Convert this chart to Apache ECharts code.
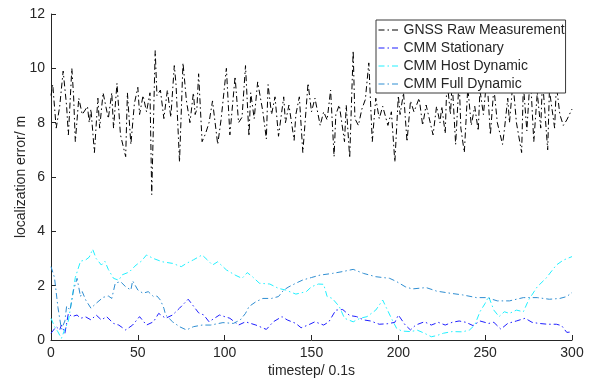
<!DOCTYPE html>
<html>
<head>
<meta charset="utf-8">
<script src="https://cdn.jsdelivr.net/npm/echarts@6/dist/echarts.min.js"></script>
<style>html,body{margin:0;padding:0;background:#fff}#chart{width:594px;height:380px}</style>
</head>
<body>
<div id="chart"></div>
<script>
// Series names (legend order)
const seriesNames = ['GNSS Raw Measurement', 'CMM Stationary', 'CMM Host Dynamic', 'CMM Full Dynamic'];

// Axis ticks
const xTicks = [0, 50, 100, 150, 200, 250, 300];
const yTicks = [0, 2, 4, 6, 8, 10, 12];

// GNSS Raw Measurement
const gnssT = [0,1,3,5,7,9,10,12,13,14,16,18,21,22,23,25,27,28,30,33,35,36,38,40,43,44,46,48,50,51,53,55,57,58,60,61,63,65,67,69,71,72,74,76,78,80,82,83,84,85,87,89,91,93,96,98,101,103,106,108,110,112,114,115,117,119,122,124,125,127,129,131,134,135,137,140,141,143,145,148,150,152,155,157,159,161,163,164,166,169,170,172,174,175,177,179,181,183,185,187,189,191,194,196,198,200,201,203,205,207,209,212,214,216,220,222,224,225,227,228,230,231,233,235,236,238,240,242,244,246,247,249,251,253,255,257,260,261,263,264,266,268,271,272,274,276,278,280,282,283,286,287,290,291,293,295,297,300];
const gnssV = [9.0,9.4,7.8,8.6,9.9,8.6,7.55,10.0,9.0,7.3,8.9,8.3,8.6,8.0,8.5,6.9,8.9,7.8,9.1,8.15,9.1,7.8,9.45,7.55,6.75,9.1,7.2,8.7,9.3,8.3,9.0,8.4,9.1,5.35,10.65,9.0,9.2,8.15,9.2,8.2,10.1,9.4,6.55,10.2,8.8,8.0,9.1,8.3,8.5,9.8,7.3,7.6,8.0,8.8,7.2,8.15,10.0,7.55,9.7,8.0,8.2,10.1,7.5,9.1,8.15,9.5,8.4,7.4,9.4,8.3,8.95,7.5,8.95,8.0,8.65,7.35,8.3,8.95,6.9,9.45,8.4,8.9,7.9,8.4,8.1,9.2,6.75,8.3,8.65,7.3,8.65,6.7,10.65,8.15,7.9,8.5,8.85,10.2,7.3,8.9,8.15,8.6,7.9,8.4,6.55,9.0,8.3,9.1,7.3,8.8,8.4,8.9,7.9,8.65,7.55,8.6,8.0,8.6,7.6,9.6,8.3,9.5,7.2,9.6,7.8,6.9,9.3,7.9,8.6,7.7,9.2,8.3,9.7,7.55,9.3,8.0,7.2,7.7,8.9,8.0,9.5,8.0,6.9,9.4,7.7,9.8,7.3,9.1,7.8,9.6,7.0,9.2,7.8,9.4,8.3,7.9,8.1,8.5];

// CMM Stationary
const statT = [0,3,5,6,8,10,12,15,17,20,23,26,29,32,36,39,43,47,51,55,59,62,66,70,74,79,82,85,88,91,97,103,108,112,118,124,128,133,136,141,144,148,152,157,160,164,168,172,176,180,184,189,194,198,200,204,207,210,215,219,223,227,231,235,239,243,247,252,255,259,263,268,273,277,281,286,291,294,297,300];
const statV = [0.25,0.49,0.37,0.55,0.25,0.98,0.86,0.92,0.8,0.85,0.74,0.92,0.74,0.86,0.61,0.55,0.37,0.55,0.86,0.55,0.67,0.98,0.8,0.92,1.17,1.5,1.25,1.0,0.92,0.67,0.92,0.8,0.55,0.67,0.55,0.39,0.67,0.86,0.74,0.61,0.45,0.55,0.67,0.55,0.67,1.1,1.12,0.9,0.86,0.74,0.7,0.58,0.6,0.65,0.92,0.55,0.37,0.55,0.67,0.55,0.65,0.55,0.65,0.7,0.65,0.53,0.7,0.61,0.65,0.4,0.61,0.7,0.8,0.65,0.61,0.58,0.58,0.53,0.28,0.3];

// CMM Host Dynamic
const hostT = [0,2,4,6,8,10,12,14,17,20,22,24,26,29,31,33,36,39,41,45,49,52,55,59,64,70,75,78,82,87,90,93,96,101,106,110,113,116,120,126,131,135,141,147,150,154,157,159,162,166,169,174,178,182,187,191,193,196,199,202,207,211,215,219,222,226,231,237,241,244,247,250,252,255,258,261,264,268,272,275,280,285,291,295,300];
const hostV = [0.8,0.5,0.3,0.06,0.4,0.7,1.5,2.3,2.9,2.95,3.05,3.34,3.0,2.76,2.9,2.6,2.27,2.2,2.4,2.5,2.76,2.9,3.13,3.0,2.88,2.82,2.7,2.82,2.95,3.13,2.95,2.76,2.88,2.58,2.39,2.27,2.48,2.33,2.09,2.06,1.9,1.84,1.69,1.78,1.96,2.06,2.05,1.6,1.53,1.23,0.8,0.67,0.8,0.86,1.1,1.47,1.2,0.8,0.43,0.33,0.31,0.36,0.25,0.12,0.16,0.25,0.31,0.3,0.37,0.55,1.04,1.35,1.6,1.1,0.86,1.04,0.98,1.1,1.04,1.47,1.96,2.27,2.76,2.94,3.07];

// CMM Full Dynamic
const fullT = [0,2,4,6,8,9,11,13,15,17,18,20,23,26,30,33,35,37,40,43,46,47,50,53,56,59,61,63,65,66,70,74,78,82,87,92,99,105,109,112,114,118,122,127,131,134,137,141,145,150,155,162,168,174,180,187,195,199,204,208,216,222,230,237,245,251,257,264,272,280,287,293,297,300];
const fullV = [2.7,2.3,1.2,0.4,0.7,1.25,1.1,1.84,2.27,1.6,1.78,1.47,1.17,1.35,1.57,1.62,1.53,2.09,2.15,1.96,1.84,2.18,1.84,1.72,1.78,1.6,1.62,1.47,1.17,0.92,0.67,0.49,0.37,0.49,0.55,0.55,0.64,0.61,0.74,0.98,1.23,1.41,1.53,1.53,1.6,1.84,1.96,2.09,2.21,2.3,2.39,2.45,2.52,2.6,2.45,2.33,2.27,2.15,1.96,1.88,1.93,1.8,1.72,1.66,1.56,1.56,1.44,1.44,1.56,1.56,1.5,1.53,1.6,1.75];

const pair = (ts, vs) => ts.map((t, i) => [t, vs[i]]);
const colors = ['#000000', '#1f1fff', '#22f0ff', '#2f8ed2'];
const dashDot = [6, 3, 1.5, 3];
const FONT = '"Liberation Sans", Arial, Helvetica, sans-serif';
const TXT = '#262626';

const dataSets = [pair(gnssT, gnssV), pair(statT, statV), pair(hostT, hostV), pair(fullT, fullV)];

const chart = echarts.init(document.getElementById('chart'), null, {renderer: 'canvas'});
chart.setOption({
  animation: false,
  backgroundColor: '#fff',
  textStyle: {fontFamily: FONT},
  grid: {left: 51, right: 22, top: 14, bottom: 40, containLabel: false, outerBoundsMode: 'none'},
  legend: {
    data: seriesNames,
    orient: 'vertical',
    left: 376, top: 20,
    itemWidth: 20, itemHeight: 14, itemGap: 4,
    padding: [3, 1, 2, 2],
    backgroundColor: '#fff',
    borderColor: '#3a3a3a', borderWidth: 1,
    itemStyle: {opacity: 0, borderWidth: 0},
    lineStyle: {width: 1, type: dashDot},
    textStyle: {fontFamily: FONT, fontSize: 14, color: TXT}
  },
  xAxis: {
    type: 'value', min: 0, max: 300, interval: 50,
    name: 'timestep/ 0.1s', nameLocation: 'middle', nameGap: 24, nameMoveOverlap: false,
    nameTextStyle: {fontFamily: FONT, fontSize: 14, color: TXT},
    axisLine: {show: true, lineStyle: {color: TXT, width: 1}},
    axisTick: {show: true, inside: true, length: 5, lineStyle: {color: TXT}},
    axisLabel: {fontFamily: FONT, fontSize: 14, color: TXT, margin: 6},
    splitLine: {show: false}
  },
  yAxis: {
    type: 'value', min: 0, max: 12, interval: 2,
    name: 'localization error/ m', nameLocation: 'middle', nameGap: 23, nameMoveOverlap: false,
    nameTextStyle: {fontFamily: FONT, fontSize: 14, color: TXT},
    axisLine: {show: true, lineStyle: {color: TXT, width: 1}},
    axisTick: {show: true, inside: true, length: 5, lineStyle: {color: TXT}},
    axisLabel: {fontFamily: FONT, fontSize: 14, color: TXT, margin: 6},
    splitLine: {show: false}
  },
  series: seriesNames.map((name, i) => ({
    name: name,
    type: 'line',
    data: dataSets[i],
    symbol: 'none',
    showSymbol: false,
    color: colors[i],
    lineStyle: {color: colors[i], width: 1, type: dashDot},
    z: 2 + i
  }))
});
</script>
</body>
</html>
